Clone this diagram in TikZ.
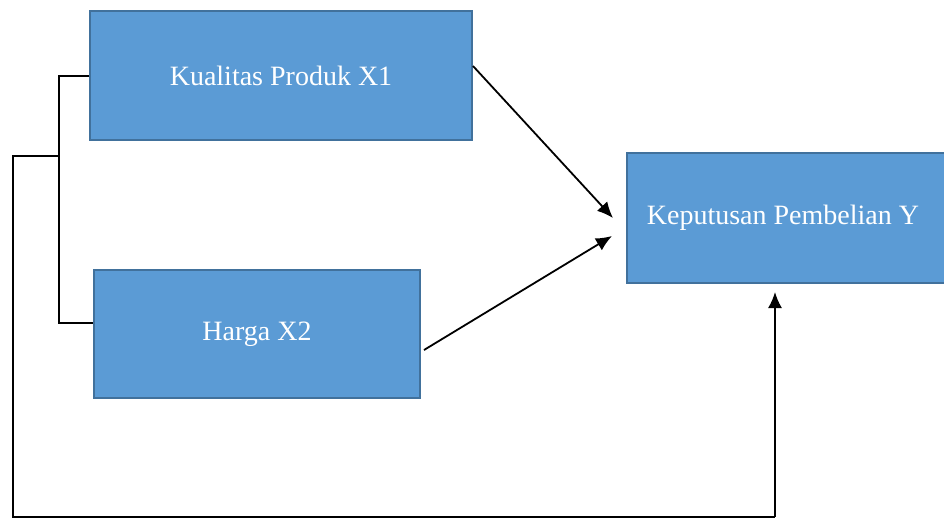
\documentclass[tikz,border=0pt]{standalone}
\usepackage{fontspec}
\setmainfont{Liberation Serif}
\usetikzlibrary{arrows.meta}

\definecolor{boxblue}{HTML}{5B9BD5}
\definecolor{boxedge}{HTML}{41719C}
\tikzset{
  var/.style={draw=boxedge, line width=0.6pt, fill=boxblue, text=white,
    font=\fontsize{14}{16}\selectfont, inner sep=0pt},
  link/.style={draw=black, line width=0.9pt},
  arr/.style={link, -{Latex[length=8pt,width=7pt]}}
}

\begin{document}
\begin{tikzpicture}[x=0.5pt,y=-0.5pt]
      \useasboundingbox (0,0) rectangle (944,521);
      % variables
      \node[var, minimum width=191pt, minimum height=64.5pt] (kp) at (281,75.5) {Kualitas Produk X1};
      \node[var, minimum width=163pt, minimum height=64pt] (hg) at (257,334) {Harga X2};
      \node[var, minimum width=164pt, minimum height=65pt] (kb) at (791,218) {\hspace*{-8pt}\raisebox{3pt}{Keputusan Pembelian Y}};
      % bracket joining X1 and X2
      \coordinate (bt) at (59,76);
      \coordinate (bb) at (59,323);
      \coordinate (bm) at (59,156);
      \draw[link] (kp.west |- bt) -- (bt) -- (bb) -- (hg.west |- bb);
      % simultaneous path
      \coordinate (ol) at (13,156);
      \coordinate (od) at (13,517);
      \coordinate (or) at (775,517);
      \coordinate (ot) at (775,292);
      \draw[link] (bm) -- (ol) -- (od) -- (or);
      \draw[arr] (or) -- (ot);
      % partial paths
      \coordinate (a1) at (473,66);
      \coordinate (e1) at (613,218);
      \coordinate (a2) at (424,350);
      \coordinate (e2) at (612,236);
      \draw[arr] (a1) -- (e1);
      \draw[arr] (a2) -- (e2);
    \end{tikzpicture}
\end{document}
